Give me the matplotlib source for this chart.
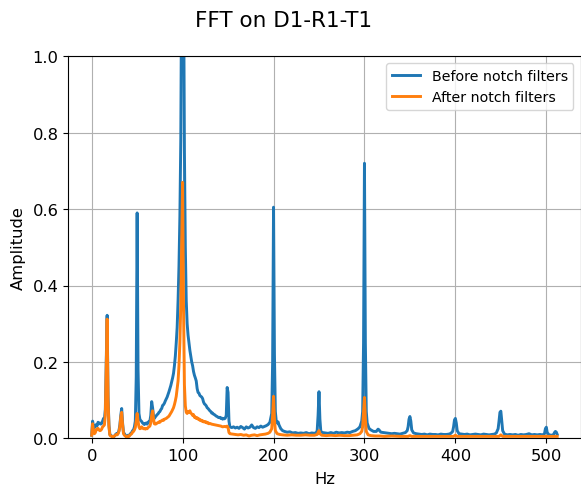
import matplotlib
matplotlib.use("Agg")
import matplotlib.pyplot as plt

title = "FFT on D1-R1-T1"
x_label = "Hz"
y_label = "Amplitude"
series_names = ["Before notch filters", "After notch filters"]
y_ticks = [0.0, 0.2, 0.4, 0.6, 0.8, 1.0]
x_ticks = [0, 100, 200, 300, 400, 500]

before_pts = [
    (0,0.008),(1,0.045),(2,0.032),(3,0.028),(4,0.030),(5,0.036),(6,0.033),(7,0.042),(8,0.038),(9,0.040),
    (10,0.037),(11,0.039),(12,0.045),(13,0.052),(14,0.050),(15,0.075),(16,0.20),(17,0.322),(18,0.11),(19,0.035),
    (20,0.010),(21,0.008),(22,0.006),(23,0.004),(24,0.003),(25,0.006),(26,0.009),(27,0.012),(28,0.010),(29,0.014),
    (30,0.020),(31,0.035),(32,0.060),(33,0.078),(34,0.040),(35,0.015),(36,0.012),(37,0.008),(38,0.005),(39,0.004),
    (40,0.008),(41,0.006),(42,0.010),(43,0.013),(44,0.015),(45,0.020),(46,0.022),(47,0.030),(48,0.045),(49,0.16),
    (50,0.59),(51,0.18),(52,0.065),(53,0.050),(54,0.046),(55,0.044),(56,0.040),(57,0.038),(58,0.036),(59,0.039),
    (60,0.040),(61,0.037),(62,0.042),(63,0.044),(64,0.045),(65,0.060),(66,0.096),(67,0.080),(68,0.058),(69,0.052),
    (70,0.056),(71,0.059),(72,0.062),(73,0.064),(74,0.068),(75,0.070),(76,0.075),(77,0.078),(78,0.086),(79,0.088),
    (80,0.092),(81,0.098),(82,0.103),(83,0.108),(84,0.115),(85,0.122),(86,0.130),(87,0.138),(88,0.148),(89,0.158),
    (90,0.170),(91,0.190),(92,0.215),(93,0.25),(94,0.29),(95,0.36),(96,0.45),(97,0.58),(98,0.78),(99,1.25),
    (100,1.15),(101,1.25),(102,0.75),(103,0.50),(104,0.36),(105,0.30),(106,0.27),(107,0.25),(108,0.23),(109,0.215),
    (110,0.20),(111,0.19),(112,0.175),(113,0.165),(114,0.158),(115,0.15),(116,0.13),(117,0.12),(118,0.118),(119,0.112),
    (120,0.110),(121,0.108),(122,0.104),(123,0.095),(124,0.090),(125,0.088),(126,0.085),(127,0.080),(128,0.078),(129,0.075),
    (130,0.072),(131,0.070),(132,0.066),(133,0.066),(134,0.063),(135,0.062),(136,0.060),(137,0.058),(138,0.057),(139,0.055),
    (140,0.054),(141,0.055),(142,0.052),(143,0.053),(144,0.050),(145,0.052),(146,0.051),(147,0.053),(148,0.060),(149,0.133),
    (150,0.12),(151,0.045),(152,0.030),(154,0.028),(156,0.030),(158,0.027),(160,0.029),(162,0.026),(164,0.031),(166,0.028),
    (168,0.024),(170,0.030),(172,0.027),(174,0.029),(176,0.035),(178,0.028),(180,0.026),(182,0.030),(184,0.028),(186,0.032),
    (188,0.029),(190,0.031),(192,0.033),(194,0.036),(196,0.042),(198,0.065),(199,0.20),(200,0.605),(201,0.22),(202,0.07),
    (203,0.045),(204,0.040),(205,0.043),(206,0.035),(208,0.025),(210,0.020),(212,0.018),(215,0.016),(218,0.017),(221,0.014),
    (224,0.015),(227,0.013),(230,0.014),(233,0.013),(236,0.015),(239,0.012),(242,0.014),(245,0.013),(247,0.015),(248,0.020),
    (249,0.060),(250,0.122),(251,0.050),(252,0.018),(254,0.015),(257,0.014),(260,0.013),(263,0.015),(266,0.013),(269,0.016),
    (272,0.014),(275,0.015),(278,0.014),(281,0.016),(284,0.015),(287,0.018),(290,0.020),(293,0.025),(295,0.030),(297,0.045),
    (298,0.070),(299,0.25),(300,0.72),(301,0.25),(302,0.07),(303,0.040),(305,0.026),(307,0.022),(310,0.018),(313,0.018),
    (315,0.024),(316,0.022),(318,0.016),(321,0.015),(324,0.014),(327,0.013),(330,0.012),(333,0.013),(336,0.012),(339,0.011),
    (342,0.013),(345,0.015),(347,0.020),(348,0.030),(349,0.050),(350,0.057),(351,0.045),(352,0.022),(354,0.014),(357,0.012),
    (360,0.011),(363,0.010),(366,0.011),(369,0.009),(372,0.011),(375,0.010),(378,0.010),(381,0.009),(384,0.011),(387,0.010),
    (390,0.010),(393,0.011),(395,0.013),(397,0.018),(398,0.030),(399,0.048),(400,0.052),(401,0.040),(402,0.020),(404,0.012),
    (407,0.011),(410,0.010),(413,0.011),(416,0.009),(419,0.010),(422,0.011),(425,0.010),(428,0.009),(431,0.011),(434,0.010),
    (437,0.009),(440,0.010),(443,0.011),(445,0.014),(447,0.025),(448,0.045),(449,0.068),(450,0.071),(451,0.045),(452,0.020),
    (454,0.011),(457,0.009),(460,0.010),(463,0.009),(466,0.010),(469,0.008),(472,0.010),(475,0.009),(478,0.010),(481,0.012),
    (484,0.009),(487,0.010),(490,0.009),(493,0.010),(496,0.009),(498,0.012),(499,0.025),(500,0.029),(501,0.015),(503,0.009),
    (506,0.008),(508,0.010),(509,0.015),(510,0.018),(511,0.016),(512,0.010),
]

after_pts = [
    (0,0.008),(1,0.038),(2,0.020),(3,0.012),(4,0.015),(5,0.022),(6,0.025),(7,0.026),(8,0.022),(9,0.020),
    (10,0.021),(11,0.024),(12,0.030),(13,0.032),(14,0.035),(15,0.06),(16,0.19),(17,0.312),(18,0.10),(19,0.030),
    (20,0.008),(21,0.006),(22,0.005),(23,0.003),(24,0.004),(25,0.006),(26,0.008),(27,0.010),(28,0.009),(29,0.012),
    (30,0.018),(31,0.030),(32,0.055),(33,0.068),(34,0.035),(35,0.012),(36,0.008),(37,0.006),(38,0.004),(39,0.003),
    (40,0.006),(41,0.005),(42,0.008),(43,0.010),(44,0.012),(45,0.016),(46,0.018),(47,0.022),(48,0.028),(49,0.045),
    (50,0.065),(51,0.045),(52,0.030),(53,0.025),(54,0.026),(55,0.030),(56,0.027),(57,0.025),(58,0.026),(59,0.024),
    (60,0.026),(61,0.025),(62,0.028),(63,0.030),(64,0.032),(65,0.040),(66,0.060),(67,0.072),(68,0.050),(69,0.038),
    (70,0.037),(71,0.038),(72,0.040),(73,0.041),(74,0.043),(75,0.042),(76,0.045),(77,0.046),(78,0.048),(79,0.047),
    (80,0.050),(81,0.051),(82,0.052),(83,0.054),(84,0.056),(85,0.058),(86,0.062),(87,0.066),(88,0.070),(89,0.075),
    (90,0.080),(91,0.088),(92,0.098),(93,0.11),(94,0.13),(95,0.15),(96,0.19),(97,0.25),(98,0.35),(99,0.52),
    (100,0.67),(101,0.35),(102,0.14),(103,0.085),(104,0.068),(105,0.065),(106,0.070),(107,0.068),(108,0.072),(109,0.066),
    (110,0.064),(111,0.060),(112,0.062),(113,0.055),(114,0.056),(115,0.052),(116,0.054),(117,0.050),(118,0.051),(119,0.047),
    (120,0.048),(121,0.045),(122,0.046),(123,0.043),(124,0.044),(125,0.042),(126,0.043),(127,0.040),(128,0.041),(129,0.038),
    (130,0.039),(132,0.037),(134,0.036),(136,0.035),(138,0.034),(140,0.033),(142,0.032),(144,0.030),(146,0.031),(148,0.030),
    (149,0.032),(150,0.028),(151,0.015),(152,0.012),(155,0.011),(158,0.010),(161,0.009),(164,0.010),(167,0.008),(170,0.009),
    (173,0.006),(176,0.008),(179,0.009),(182,0.007),(185,0.009),(188,0.010),(191,0.011),(194,0.013),(196,0.016),(198,0.025),
    (199,0.06),(200,0.11),(201,0.05),(202,0.02),(204,0.012),(207,0.010),(210,0.009),(215,0.008),(220,0.009),(225,0.008),
    (230,0.008),(235,0.009),(240,0.008),(245,0.008),(248,0.010),(249,0.015),(250,0.020),(251,0.012),(253,0.008),(258,0.007),
    (263,0.008),(268,0.007),(273,0.008),(278,0.007),(283,0.007),(288,0.008),(292,0.009),(295,0.012),(297,0.018),(298,0.030),
    (299,0.07),(300,0.107),(301,0.05),(302,0.018),(304,0.009),(307,0.007),(312,0.006),(317,0.006),(322,0.005),(330,0.006),
    (340,0.005),(348,0.005),(350,0.007),(352,0.005),(360,0.005),(370,0.005),(380,0.005),(390,0.005),(398,0.005),(400,0.008),
    (402,0.005),(410,0.005),(420,0.005),(430,0.005),(440,0.005),(448,0.005),(450,0.009),(452,0.005),(460,0.005),(470,0.005),
    (480,0.005),(490,0.005),(500,0.005),(505,0.005),(512,0.005),
]

before_hz = [p[0] for p in before_pts]
before_amp = [p[1] for p in before_pts]
after_hz = [p[0] for p in after_pts]
after_amp = [p[1] for p in after_pts]

W, H = 581, 489
fig = plt.figure(figsize=(W / 100, H / 100), dpi=100)
ax = fig.add_axes([68.4 / W, 1 - 439.3 / H, (580.5 - 68.4) / W, (439.3 - 57.3) / H])

ax.plot(before_hz, before_amp, color="#1f77b4", lw=2.1, label=series_names[0])
ax.plot(after_hz, after_amp, color="#ff7f0e", lw=2.1, label=series_names[1])

ax.set_xlim(-25.6, 537.6)
ax.set_ylim(0, 1.0)
ax.set_xticks(x_ticks)
ax.set_yticks(y_ticks)
ax.tick_params(labelsize=11.8)
ax.grid(True)
ax.set_xlabel(x_label, fontsize=11.8, labelpad=6)
ax.set_ylabel(y_label, fontsize=11.8, labelpad=5)
ax.legend(loc="upper right", fontsize=10.2)
fig.text(284 / W, 1 - 21 / H, title, ha="center", va="center", fontsize=15.5)

fig.savefig("out.png", dpi=100)
